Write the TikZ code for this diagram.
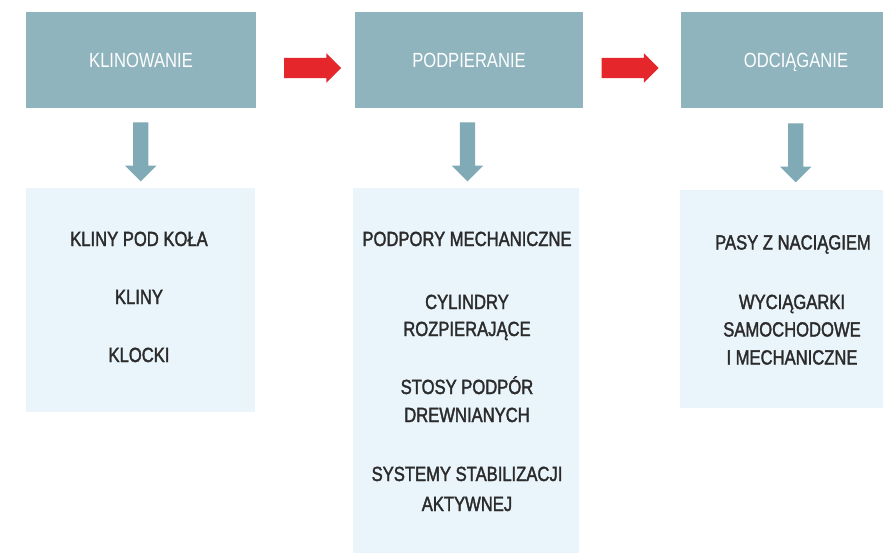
\documentclass[tikz,border=0pt]{standalone}
\usepackage{fontspec}
\setmainfont{Liberation Sans}[FakeStretch=0.81]
\newfontfamily\bodyfont{Liberation Sans}[FakeStretch=0.81, FakeBold=1.8]
\usetikzlibrary{shapes.arrows,calc}
\definecolor{hdrc}{HTML}{8FB4BD}
\definecolor{downc}{HTML}{80ABB6}
\definecolor{boxc}{HTML}{EAF4FB}
\definecolor{redc}{HTML}{E5262A}
\definecolor{txtc}{HTML}{2B2B2B}
\begin{document}
\begin{tikzpicture}[x=1pt,y=-1pt,
  hdr/.style={fill=hdrc, minimum height=96pt, inner sep=0pt, text=white,
    font=\fontsize{20.5}{24}\selectfont, text height=14pt, text depth=0pt},
  lbox/.style={fill=boxc, inner sep=0pt},
  item/.style={text=txtc, font=\bodyfont\fontsize{20.5}{24}\selectfont,
    text height=14pt, text depth=0pt, inner sep=0pt},
  downarr/.style={single arrow, fill=downc, draw=none, rotate=-90,
    minimum height=59pt, inner sep=7.5pt, single arrow head extend=8pt,
    single arrow head indent=0pt},
  redarr/.style={single arrow, fill=redc, draw=none,
    minimum height=57pt, inner sep=10pt, single arrow head extend=4.5pt,
    single arrow head indent=0pt}]
\useasboundingbox (0,0) rectangle (883,554);
\clip (0,0) rectangle (883,554);
\fill[white] (0,0) rectangle (883,554);
% headers
\node[hdr, minimum width=230pt] (h1) at (141,60) {KLINOWANIE};
\node[hdr, minimum width=228pt] (h2) at (469,60) {PODPIERANIE};
\node[hdr, minimum width=230pt] (h3) at (796,60) {ODCIĄGANIE};
% light boxes
\node[lbox, minimum width=229pt, minimum height=224pt] (b1) at (140.5,300) {};
\node[lbox, minimum width=226pt, minimum height=365pt] (b2) at (466,370.5) {};
\node[lbox, minimum width=231pt, minimum height=218pt] (b3) at (795.5,299) {};
% arrows
\node[redarr] (r1) at ($($(h1.east)!0.5!(h2.west)$)+(2,8)$) {};
\node[redarr] (r2) at ($($(h2.east)!0.5!(h3.west)$)+(-7,8)$) {};
\node[downarr] (d1) at ($(h1.south)!0.5!(b1.north)$) {};
\node[downarr] (d2) at ($(h2.south)!0.5!(b2.north)$) {};
\node[downarr] (d3) at ($(h3.south)!0.5!(b3.north)$) {};
% box 1 text
\node[item] (t11) at (139,239) {KLINY POD KOŁA};
\node[item] (t12) at (139,297) {KLINY};
\node[item] (t13) at (139,355) {KLOCKI};
% box 2 text
\node[item] (t21) at (467,239) {PODPORY MECHANICZNE};
\node[item] (t22) at (467,302) {CYLINDRY};
\node[item] (t23) at (467,329) {ROZPIERAJĄCE};
\node[item] (t24) at (467,387) {STOSY PODPÓR};
\node[item] (t25) at (467,415) {DREWNIANYCH};
\node[item] (t26) at (467,474) {SYSTEMY STABILIZACJI};
\node[item] (t27) at (467,504) {AKTYWNEJ};
% box 3 text
\node[item] (t31) at (793,242.5) {PASY Z NACIĄGIEM};
\node[item] (t32) at (792,302) {WYCIĄGARKI};
\node[item] (t33) at (792,329.5) {SAMOCHODOWE};
\node[item] (t34) at (792,357.5) {I MECHANICZNE};
\end{tikzpicture}
\end{document}
